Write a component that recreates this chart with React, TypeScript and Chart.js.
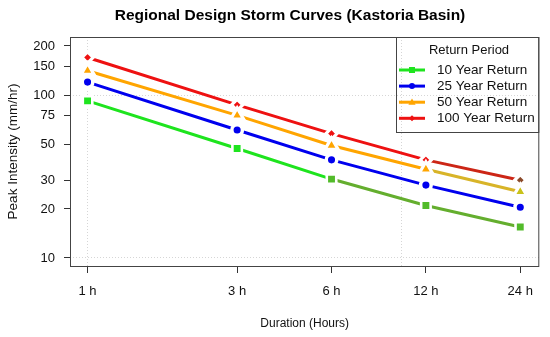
import { useEffect, useRef } from 'react';
import { Chart, registerables } from 'chart.js';

Chart.register(...registerables);

// ---- data ----
const chartTitle = 'Regional Design Storm Curves (Kastoria Basin)';
const xTitle = 'Duration (Hours)';
const yTitle = 'Peak Intensity (mm/hr)';
const legendTitle = 'Return Period';
const durations = [1, 3, 6, 12, 24];
const xTickValues = [1, 3, 6, 12, 24];
const xGridValues = [1, 10];
const yTickValues = [10, 20, 30, 50, 75, 100, 150, 200];
const yGridValues = [10, 100];
const seriesNames = ['10 Year Return', '25 Year Return', '50 Year Return', '100 Year Return'];
const rp10 = [92, 47, 30.5, 21, 15.5];
const rp25 = [120, 61, 40, 28, 20.5];
const rp50 = [141, 75, 49, 35, 25.5];
const rp100 = [170, 87, 58, 40, 30];
const seriesValues = [rp10, rp25, rp50, rp100];

// ---- styles ----
const FONT = '"Liberation Sans", Arial, Helvetica, sans-serif';
const seriesStyles = [
  { color: '#1ee41e', late: '#64ae2e', lateFrom: 2, latePointFrom: 2, latePoint: '#52bb2a', pointStyle: 'rect', radius: 6.7, bw: 2.6, shape: 'square' },
  { color: '#0000ee', late: '#0000ee', lateFrom: 99, latePointFrom: 99, latePoint: '#0000ee', pointStyle: 'circle', radius: 5.3, bw: 3.5, shape: 'circle' },
  { color: '#ffa500', late: '#d8b428', lateFrom: 3, latePointFrom: 4, latePoint: '#c9c21a', pointStyle: 'triangle', radius: 7.5, bw: 3.2, shape: 'triangle' },
  { color: '#ee1111', late: '#cc2616', lateFrom: 3, latePointFrom: 4, latePoint: '#8b4a2a', pointStyle: 'rectRot', radius: 5.6, bw: 3.2, shape: 'diamond' },
];

function drawShape(ctx: CanvasRenderingContext2D, shape: string, x: number, y: number, color: string) {
  ctx.fillStyle = color;
  ctx.beginPath();
  if (shape === 'square') {
    ctx.rect(x - 3, y - 3, 6, 6);
  } else if (shape === 'circle') {
    ctx.arc(x, y, 3, 0, Math.PI * 2);
  } else if (shape === 'triangle') {
    ctx.moveTo(x, y - 3.8);
    ctx.lineTo(x + 3.6, y + 2.6);
    ctx.lineTo(x - 3.6, y + 2.6);
    ctx.closePath();
  } else {
    ctx.moveTo(x, y - 3);
    ctx.lineTo(x + 3, y);
    ctx.lineTo(x, y + 3);
    ctx.lineTo(x - 3, y);
    ctx.closePath();
  }
  ctx.fill();
}

const framePlugin = {
  id: 'frame',
  afterDraw(chart: any) {
    const { ctx, chartArea: a } = chart;
    ctx.save();
    // plot box
    ctx.strokeStyle = '#444';
    ctx.lineWidth = 1;
    ctx.strokeRect(a.left + 0.5, a.top + 0.5, a.right - a.left - 1, a.bottom - a.top);
    // title
    ctx.fillStyle = '#000';
    ctx.font = `bold 15.5px ${FONT}`;
    ctx.textAlign = 'center';
    ctx.textBaseline = 'middle';
    ctx.fillText(chartTitle, 290, 16);
    // legend
    const lx = 396, ly = a.top, lw = a.right - 396, lh = 95;
    ctx.strokeStyle = '#444';
    ctx.strokeRect(lx + 0.5, ly + 0.5, lw - 1, lh);
    ctx.font = `13px ${FONT}`;
    ctx.fillStyle = '#111';
    ctx.fillText(legendTitle, 469, 50);
    ctx.font = `13.5px ${FONT}`;
    ctx.textAlign = 'left';
    seriesNames.forEach((name, i) => {
      const y = 70 + i * 16.1;
      const st = seriesStyles[i];
      ctx.strokeStyle = st.color;
      ctx.lineWidth = 3;
      ctx.beginPath();
      ctx.moveTo(399, y);
      ctx.lineTo(425, y);
      ctx.stroke();
      drawShape(ctx, st.shape, 412, y, st.color);
      ctx.fillStyle = '#111';
      ctx.fillText(name, 437, y);
    });
    ctx.restore();
  },
};

export default function App() {
  const ref = useRef<HTMLCanvasElement | null>(null);
  useEffect(() => {
    if (!ref.current) return;
    const datasets = seriesNames.map((name, i) => {
      const st = seriesStyles[i];
      const vals = seriesValues[i];
      return {
        label: name,
        data: durations.map((d, j) => ({ x: d, y: vals[j] })),
        borderColor: st.color,
        borderWidth: 3,
        pointStyle: st.pointStyle,
        pointRadius: st.radius,
        pointBorderWidth: st.bw,
        pointBorderColor: '#ffffff',
        pointBackgroundColor: durations.map((_, j) => (j >= st.latePointFrom ? st.latePoint : st.color)),
        segment: {
          borderColor: (c: any) => (c.p0DataIndex >= st.lateFrom ? st.late : st.color),
        },
        tension: 0,
        fill: false,
      };
    });
    const chart = new Chart(ref.current, {
      type: 'line',
      data: { datasets: datasets as any },
      plugins: [framePlugin],
      options: {
        animation: false,
        responsive: true,
        maintainAspectRatio: false,
        events: [],
        layout: { padding: { left: 0, right: 9, top: 37, bottom: 0 } },
        plugins: { legend: { display: false }, title: { display: false }, tooltip: { enabled: false } },
        scales: {
          x: {
            type: 'logarithmic',
            min: 0.879,
            max: 27.6,
            afterBuildTicks: (s: any) => {
              s.ticks = [...xTickValues, ...xGridValues.filter((v) => !xTickValues.includes(v))]
                .sort((p, q) => p - q)
                .map((v) => ({ value: v }));
            },
            afterFit: (s: any) => {
              s.height = 71;
            },
            ticks: {
              autoSkip: false,
              maxRotation: 0,
              padding: 11,
              color: '#111',
              font: { family: FONT, size: 13 },
              callback: (v: any) => (xTickValues.includes(Number(v)) ? `${v} h` : ''),
            },
            grid: {
              color: (c: any) => (c.tick && xGridValues.includes(c.tick.value) ? '#d6d6d6' : 'rgba(0,0,0,0)'),
              tickColor: (c: any) => (c.tick && xTickValues.includes(c.tick.value) ? '#333' : 'rgba(0,0,0,0)'),
              tickLength: 7,
              lineWidth: 1,
            },
            border: { display: false, dash: [1, 2] },
            title: {
              display: true,
              text: xTitle,
              color: '#111',
              font: { family: FONT, size: 12 },
              padding: { top: 0, bottom: 6 },
            },
          },
          y: {
            type: 'logarithmic',
            min: 8.93,
            max: 227,
            afterBuildTicks: (s: any) => {
              s.ticks = yTickValues.map((v) => ({ value: v }));
            },
            afterFit: (s: any) => {
              s.width = 70;
            },
            ticks: {
              autoSkip: false,
              padding: 9,
              color: '#111',
              font: { family: FONT, size: 13 },
              callback: (v: any) => String(v),
            },
            grid: {
              color: (c: any) => (c.tick && yGridValues.includes(c.tick.value) ? '#d6d6d6' : 'rgba(0,0,0,0)'),
              tickColor: '#333',
              tickLength: 6,
              lineWidth: 1,
            },
            border: { display: false, dash: [1, 2] },
            title: {
              display: true,
              text: yTitle,
              color: '#111',
              font: { family: FONT, size: 13.5 },
              padding: { top: 5, bottom: 0 },
            },
          },
        },
      } as any,
    });
    return () => chart.destroy();
  }, []);
  return (
    <div style={{ position: 'fixed', left: 0, top: 0, width: 550, height: 337, background: '#fff' }}>
      <canvas ref={ref} />
    </div>
  );
}
